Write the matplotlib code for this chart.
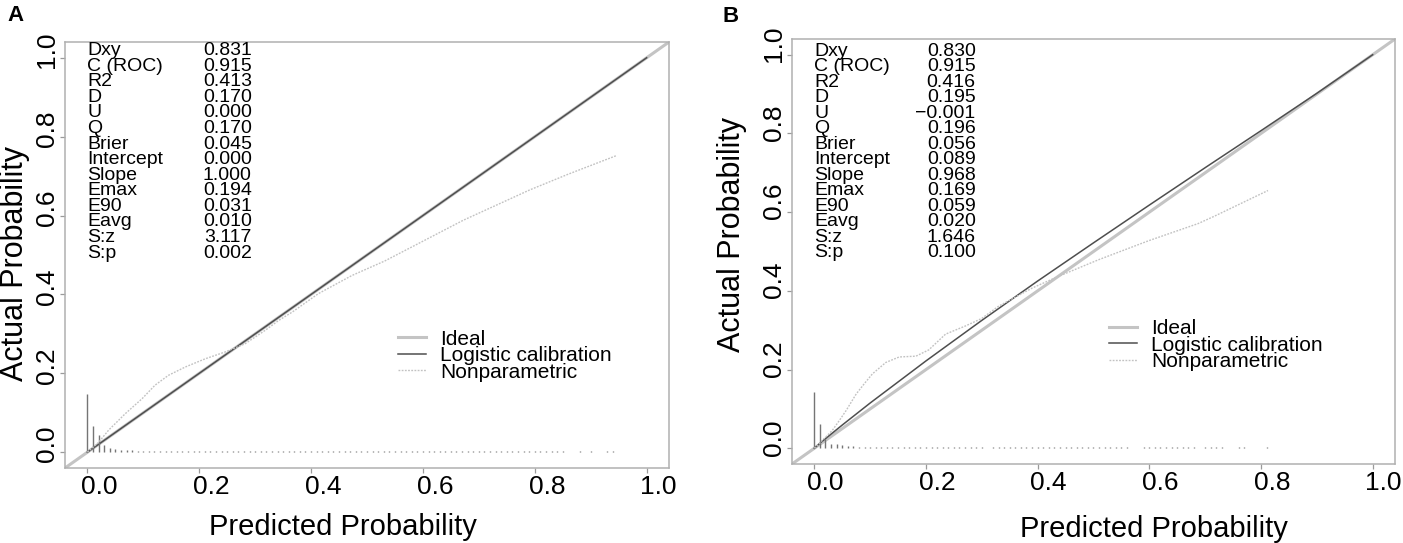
import numpy as np
import matplotlib
matplotlib.use('Agg')
import matplotlib.pyplot as plt
from matplotlib.transforms import ScaledTranslation

plt.rcParams['font.family'] = ['Liberation Sans', 'DejaVu Sans']

# ---------------- data ----------------
tick_vals = [0.0, 0.2, 0.4, 0.6, 0.8, 1.0]
tick_labels = ['0.0', '0.2', '0.4', '0.6', '0.8', '1.0']

stat_names = ['Dxy', 'C (ROC)', 'R2', 'D', 'U', 'Q', 'Brier', 'Intercept',
              'Slope', 'Emax', 'E90', 'Eavg', 'S:z', 'S:p']
A_stat_values = ['0.831', '0.915', '0.413', '0.170', '0.000', '0.170', '0.045',
                 '0.000', '1.000', '0.194', '0.031', '0.010', '3.117', '0.002']
B_stat_values = ['0.830', '0.915', '0.416', '0.195', '\u22120.001', '0.196', '0.056',
                 '0.089', '0.968', '0.169', '0.059', '0.020', '1.646', '0.100']

legend_labels = ['Ideal', 'Logistic calibration', 'Nonparametric']

# logistic calibration curves
A_logit_x = [0.0, 1.0]
A_logit_y = [0.0, 1.0]
B_logit_x = [0.0, 0.01, 0.05, 0.1, 0.2, 0.3, 0.4, 0.5, 0.6, 0.7, 0.8, 0.9, 1.0]
B_logit_y = [0.0, 0.013, 0.059, 0.115, 0.222, 0.325, 0.425, 0.522, 0.618, 0.713, 0.807, 0.902, 1.0]

# nonparametric (lowess) curves
A_np_x = [0.0, 0.02, 0.038, 0.068, 0.098, 0.121, 0.145, 0.175, 0.211, 0.246, 0.282,
          0.318, 0.342, 0.366, 0.413, 0.473, 0.532, 0.60, 0.672, 0.74, 0.791, 0.86, 0.946]
A_np_y = [0.0, 0.025, 0.056, 0.098, 0.136, 0.170, 0.195, 0.216, 0.237, 0.254, 0.275,
          0.309, 0.334, 0.355, 0.402, 0.448, 0.485, 0.535, 0.588, 0.632, 0.665, 0.705, 0.752]
B_np_x = [0.0, 0.02, 0.032, 0.045, 0.057, 0.075, 0.09, 0.104, 0.128, 0.152, 0.182, 0.205,
          0.235, 0.271, 0.30, 0.33, 0.39, 0.4375, 0.509, 0.598, 0.6875, 0.717, 0.8125]
B_np_y = [0.0, 0.028, 0.045, 0.071, 0.096, 0.138, 0.165, 0.189, 0.218, 0.232, 0.234, 0.25,
          0.29, 0.311, 0.33, 0.361, 0.407, 0.437, 0.479, 0.527, 0.571, 0.59, 0.655]

# spike histograms of predicted probabilities (bins of 0.01 starting at 0.00)
A_hist_h = [0.147, 0.067, 0.043, 0.018, 0.011, 0.008,
            0.005, 0.005, 0.005, 0.004, 0.004, 0.004, 0.004, 0.004, 0.004, 0.004,
            0.004, 0.004, 0.004, 0.004, 0.004, 0.004, 0.004, 0.004, 0.004, 0.004,
            0.004, 0.004, 0.004, 0.004, 0.004, 0.004, 0.004, 0.004, 0.004, 0.004,
            0.004, 0.004, 0.004, 0.004, 0.004, 0.004, 0.004, 0.004, 0.004, 0.004,
            0.004, 0.004, 0.004, 0.004, 0.004, 0.004, 0.004, 0.004, 0.004, 0.004,
            0.004, 0.004, 0.004, 0.004, 0.004, 0.004, 0.004, 0.004, 0.004, 0.004,
            0.004, 0.004, 0.004, 0.004, 0.004, 0.004, 0.004, 0.004, 0.004, 0.004,
            0.004, 0.004, 0.004, 0.004, 0.004, 0.004, 0.004, 0.004, 0.004, 0.004,
            0.0, 0.0, 0.004, 0.0, 0.004, 0.0, 0.0, 0.004, 0.004]
B_hist_h = [0.142, 0.062, 0.023, 0.012, 0.010, 0.008,
            0.005, 0.005, 0.004, 0.004, 0.004, 0.004, 0.004, 0.004, 0.004, 0.004,
            0.004, 0.004, 0.004, 0.004, 0.004, 0.004, 0.004, 0.004, 0.004, 0.004,
            0.004, 0.004, 0.004, 0.004, 0.004, 0.0, 0.004, 0.004, 0.004, 0.004,
            0.004, 0.004, 0.004, 0.004, 0.004, 0.004, 0.004, 0.004, 0.004, 0.004,
            0.004, 0.004, 0.004, 0.004, 0.004, 0.004, 0.004, 0.004, 0.004, 0.004,
            0.004, 0.0, 0.0, 0.004, 0.004, 0.004, 0.004, 0.004, 0.004, 0.004,
            0.004, 0.004, 0.004, 0.0, 0.004, 0.004, 0.004, 0.004, 0.0, 0.0,
            0.004, 0.004, 0.0, 0.0, 0.0, 0.004]

BIN_WIDTH = 0.01

# ---------------- figure ----------------
W, H = 1403, 543
fig = plt.figure(figsize=(W / 100, H / 100), dpi=100)

def px_axes(left, top, right, bottom):
    return fig.add_axes([left / W, 1 - bottom / H, (right - left) / W, (bottom - top) / H])

axA = px_axes(65, 42, 669, 468)
axB = px_axes(792, 39, 1395, 464)

IDEAL_C = '#c4c4c4'
LOGIT_C = '#4e4e4e'
NP_C = '#c2c2c2'
SPIKE_C = '#757575'


def draw_panel(ax, logit_x, logit_y, np_x, np_y, hist_h, values, cfg):
    ax.set_xlim(-0.04, 1.04)
    ax.set_ylim(-0.04, 1.04)

    ideal = ax.axline((0, 0), (1, 1), color=IDEAL_C, lw=2.2, zorder=2)
    logi, = ax.plot(logit_x, logit_y, color=LOGIT_C, lw=1.1, zorder=3)
    nonp, = ax.plot(np_x, np_y, color=NP_C, lw=1.0, ls=(0, (1.3, 1.0)), zorder=4)
    hx = np.arange(len(hist_h)) * BIN_WIDTH
    ax.vlines(hx, 0, hist_h, color=SPIKE_C, lw=1.0, zorder=3)

    # statistics block
    for i, (name, val) in enumerate(zip(stat_names, values)):
        y = cfg['stat_y0'] - i * cfg['stat_dy']
        ax.text(0.0, y, name, ha='left', va='baseline', fontsize=14, color='black')
        ax.text(cfg['val_x'], y, val, ha='right', va='baseline', fontsize=14, color='black')

    # legend
    ax.legend([ideal, logi, nonp], legend_labels, loc='upper left',
              bbox_to_anchor=(cfg['leg_x'], cfg['leg_y']), bbox_transform=ax.transData,
              frameon=False, fontsize=15, handlelength=1.35, handletextpad=0.7,
              labelspacing=-0.12, borderpad=0, borderaxespad=0)

    # axes styling
    for s in ax.spines.values():
        s.set_color('#b0b0b0')
        s.set_linewidth(1.1)
    ax.set_xticks(tick_vals, tick_labels)
    ax.set_yticks(tick_vals, tick_labels, rotation=90, va='center')
    ax.tick_params(direction='out', length=3.6, width=0.9, color='#9a9a9a',
                   labelsize=19, labelcolor='black')
    ax.tick_params(axis='x', pad=1.5)
    ax.tick_params(axis='y', pad=0.5)
    for lab in ax.get_xticklabels():
        lab.set_transform(lab.get_transform() + ScaledTranslation(cfg['xt_dx'] / 100, 0, fig.dpi_scale_trans))
    for lab in ax.get_yticklabels():
        lab.set_transform(lab.get_transform() + ScaledTranslation(0, cfg['yt_dy'] / 100, fig.dpi_scale_trans))

    ax.set_xlabel('Predicted Probability', fontsize=21, va='baseline')
    ax.xaxis.set_label_coords(cfg['xl_x'], cfg['xl_y'])
    ax.set_ylabel('Actual Probability', fontsize=22, va='baseline')
    ax.yaxis.set_label_coords(cfg['yl_x'], cfg['yl_y'])


cfgA = dict(stat_y0=1.007, stat_dy=0.0395, val_x=0.294, leg_x=0.555, leg_y=0.311,
            xt_dx=12, yt_dy=8, xl_x=0.46, xl_y=-0.157, yl_x=-0.0695, yl_y=0.481)
cfgB = dict(stat_y0=0.997, stat_dy=0.0394, val_x=0.289, leg_x=0.527, leg_y=0.328,
            xt_dx=11, yt_dy=11, xl_x=0.60, xl_y=-0.172, yl_x=-0.0862, yl_y=0.539)

draw_panel(axA, A_logit_x, A_logit_y, A_np_x, A_np_y, A_hist_h, A_stat_values, cfgA)
draw_panel(axB, B_logit_x, B_logit_y, B_np_x, B_np_y, B_hist_h, B_stat_values, cfgB)

fig.text(7 / W, 1 - 5 / H, 'A', fontsize=16, fontweight='bold', ha='left', va='top')
fig.text(723 / W, 1 - 6 / H, 'B', fontsize=16, fontweight='bold', ha='left', va='top')

fig.savefig('out.png', dpi=100)
